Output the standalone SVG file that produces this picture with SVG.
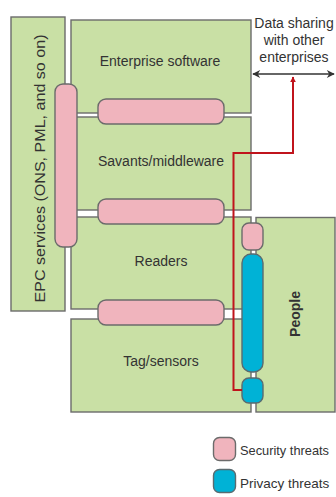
<svg xmlns="http://www.w3.org/2000/svg" width="336" height="497" viewBox="0 0 336 497">
<style>
.box{fill:#c9e0a5;stroke:#6b6b6b;stroke-width:1.4}
.sec{fill:#f0b4bd;stroke:#6b6b6b;stroke-width:1.4}
.prv{fill:#00b2d6;stroke:#5a6b70;stroke-width:1.4}
.lbl{font-family:"Liberation Sans",Arial,sans-serif;font-size:14px;fill:#333;text-anchor:middle}
.leg{font-family:"Liberation Sans",Arial,sans-serif;font-size:13.5px;fill:#333}
.red{fill:none;stroke:#c0141c;stroke-width:2}
.blk{fill:none;stroke:#333;stroke-width:1.4}
</style>
<defs>
<marker id="ar" viewBox="0 0 10 10" refX="9" refY="5" markerWidth="6" markerHeight="7" orient="auto" markerUnits="userSpaceOnUse">
<path d="M0,0 L10,5 L0,10 z" fill="#c0141c"/>
</marker>
<marker id="bk" viewBox="0 0 10 10" refX="9" refY="5" markerWidth="9" markerHeight="8" orient="auto-start-reverse" markerUnits="userSpaceOnUse">
<path d="M0,0 L10,5 L0,10 L3,5 z" fill="#333"/>
</marker>
</defs>
<rect width="336" height="497" fill="#fff"/>
<g id="epc"><rect class="box" x="11" y="17" width="54" height="294"/>
<text class="lbl" font-size="15" transform="translate(45,168.5) rotate(-90)" textLength="268" lengthAdjust="spacingAndGlyphs">EPC services (ONS, PML, and so on)</text></g>
<g id="enterprise"><rect class="box" x="71" y="20" width="180" height="93"/>
<text class="lbl" x="160" y="66">Enterprise software</text></g>
<g id="savants"><rect class="box" x="71" y="117" width="180" height="93"/>
<text class="lbl" x="161" y="166">Savants/middleware</text></g>
<g id="readers"><rect class="box" x="71" y="217" width="180" height="92"/>
<text class="lbl" x="161" y="266">Readers</text></g>
<g id="tags"><rect class="box" x="71" y="319" width="180" height="93"/>
<text class="lbl" x="161" y="366">Tag/sensors</text></g>
<g id="people"><rect class="box" x="256" y="217.5" width="79" height="194.5"/>
<text class="lbl" font-weight="bold" transform="translate(300,314) rotate(-90)">People</text></g>
<g id="threat-epc"><rect class="sec" x="55" y="84" width="22" height="163" rx="8"/></g>
<g id="threat-ent-sav"><rect class="sec" x="98" y="99" width="126" height="25" rx="8"/></g>
<g id="threat-sav-rd"><rect class="sec" x="98" y="199" width="126" height="25" rx="8"/></g>
<g id="threat-rd-tag"><rect class="sec" x="98" y="300" width="126" height="25" rx="8"/></g>
<g id="threat-people-sec"><rect class="sec" x="242" y="223" width="21" height="27" rx="7"/></g>
<g id="threat-people-prv"><rect class="prv" x="242" y="254" width="21" height="118" rx="9"/></g>
<g id="threat-tag-prv"><rect class="prv" x="242" y="378" width="21" height="25" rx="7"/></g>
<g id="connectors">
<path class="red" d="M242,390 H233.5 V153 H293 V77" marker-end="url(#ar)"/>
<path class="blk" d="M253,74 H334" marker-start="url(#bk)" marker-end="url(#bk)"/>
</g>
<g id="sharing">
<text class="lbl" x="294" y="28">Data sharing</text>
<text class="lbl" x="294" y="45">with other</text>
<text class="lbl" x="294" y="62">enterprises</text>
</g>
<g id="legend">
<rect class="sec" x="213.5" y="437.5" width="22" height="23" rx="6" stroke="#555"/>
<text class="leg" x="240" y="455" textLength="89" lengthAdjust="spacingAndGlyphs">Security threats</text>
<rect class="prv" x="213.5" y="469.5" width="22" height="23" rx="6" stroke="#555"/>
<text class="leg" x="240" y="488">Privacy threats</text>
</g>
</svg>
